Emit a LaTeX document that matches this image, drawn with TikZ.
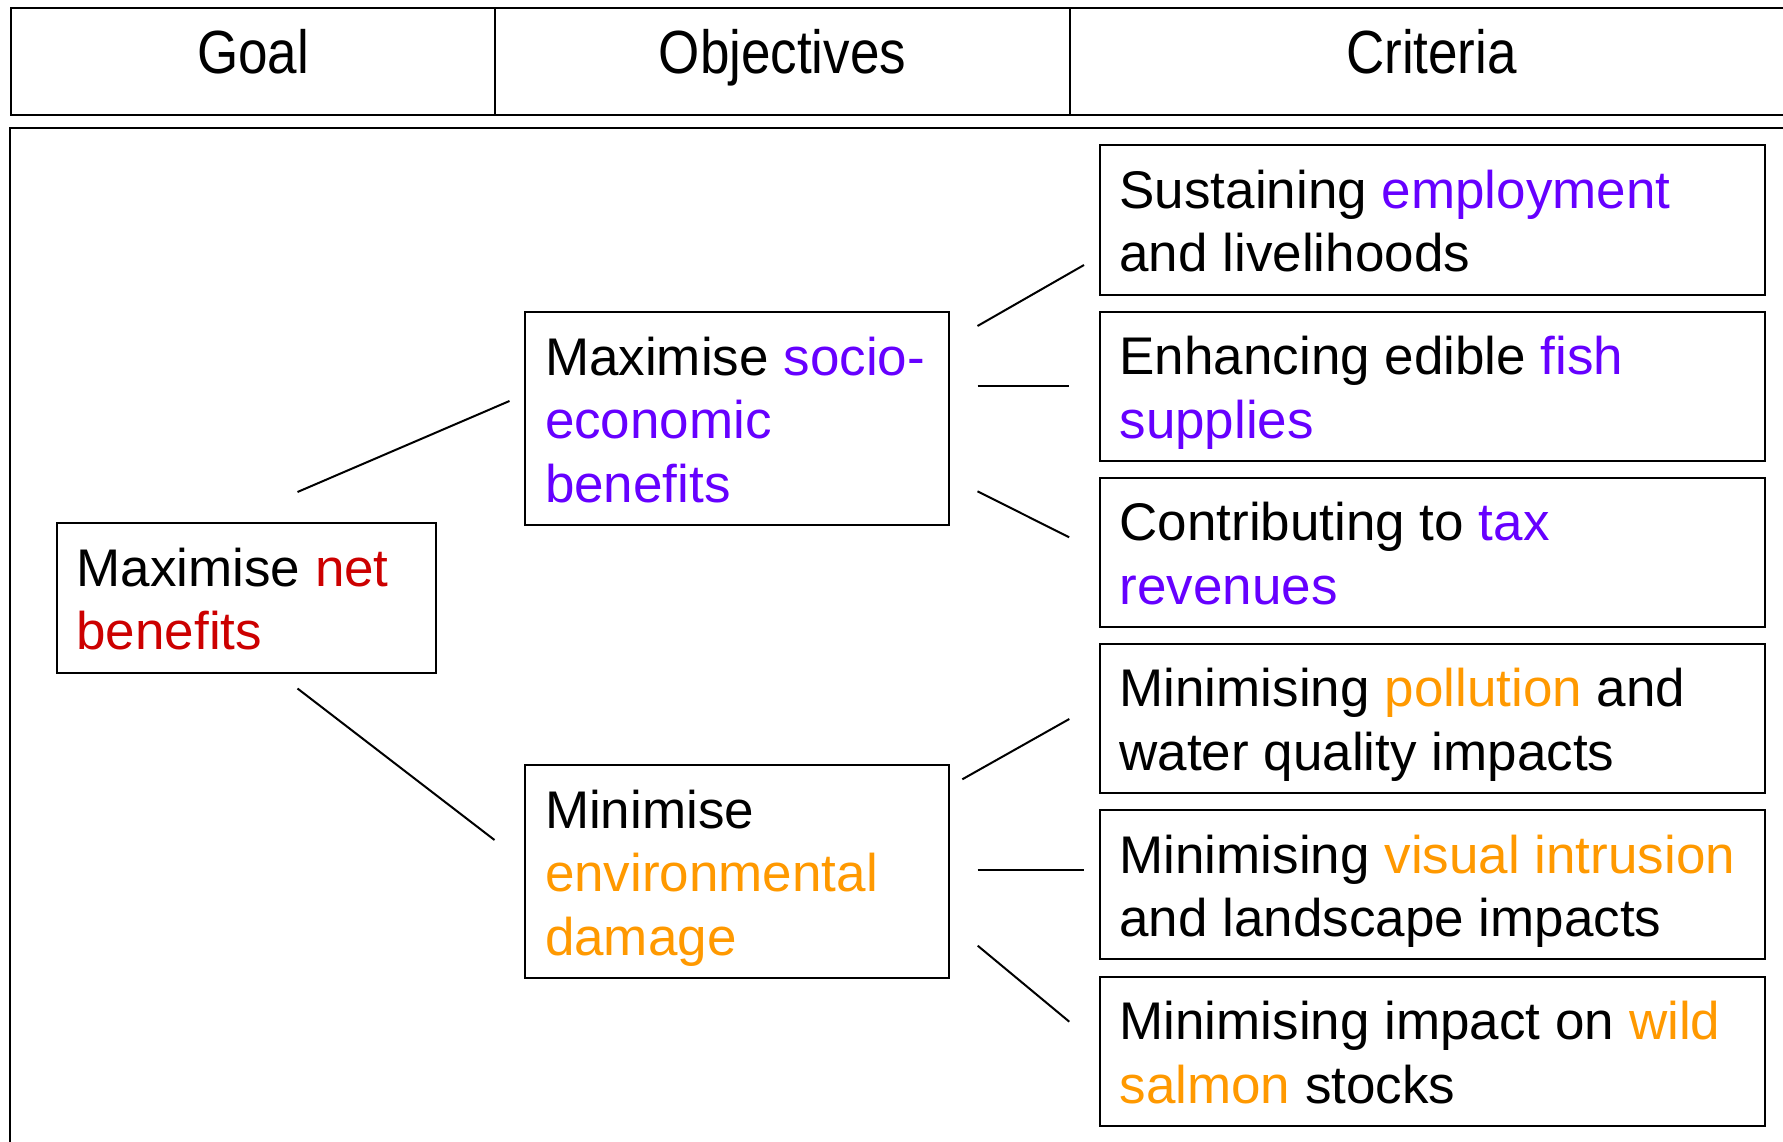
\documentclass[tikz,border=0pt]{standalone}
\usepackage{fontspec}
\setmainfont{Liberation Sans}
\usepackage{graphicx}

\definecolor{netred}{RGB}{204,0,0}
\definecolor{socio}{RGB}{102,0,255}
\definecolor{env}{RGB}{255,153,0}

% box body: fixed-size, top-aligned paragraph with a strut fixing the first baseline
\newcommand{\cellbody}[3]{\parbox[t][#2][t]{#1}{\raggedright\rule{0pt}{63pt}#3}}

\tikzset{
  bigfont/.style={font=\fontsize{53}{63.5}\selectfont},
  textbox/.style={draw=black, line width=2pt, inner xsep=20pt, inner ysep=0pt,
                  anchor=north west, bigfont},
  headcell/.style={draw=black, line width=2pt, inner sep=0pt, anchor=north west,
                   minimum height=106.5pt, text height=65.3pt, text depth=41.2pt, bigfont},
  link/.style={line width=2pt, line cap=butt}
}

\begin{document}
\begin{tikzpicture}[x=1pt, y=-1pt]
  \useasboundingbox (0,0) rectangle (1783,1142);
  \clip (0,0) rectangle (1783,1142);
  \fill[white] (0,0) rectangle (1783,1142);

  % column headings
  \node[headcell, minimum width=484pt] (hgoal) at (10,7.5) {\scalebox{1}[1.15]{Goal}};
  \node[headcell, minimum width=575pt] (hobj) at (494,7.5) {\scalebox{1}[1.15]{Objectives}};
  \node[headcell, minimum width=723pt] (hcrit) at (1069,7.5) {\scalebox{1}[1.15]{Criteria}};

  % frame around the hierarchy
  \draw[line width=2pt] (1800,128) -- (10,128) -- (10,1160);

  % goal
  \node[textbox] (goal) at (55.5,522) {\cellbody{339pt}{150pt}{%
    Maximise \textcolor{netred}{net}\\ \textcolor{netred}{benefits}}};

  % objectives
  \node[textbox] (obj1) at (524,311) {\cellbody{384pt}{213pt}{%
    \mbox{Maximise \textcolor{socio}{socio-}}\\ \textcolor{socio}{economic}\\ \textcolor{socio}{benefits}}};
  \node[textbox] (obj2) at (524,764) {\cellbody{384pt}{213pt}{%
    Minimise\\ \textcolor{env}{environmental}\\ \textcolor{env}{damage}}};

  % criteria
  \node[textbox] (c1) at (1098.5,144.5) {\cellbody{625.5pt}{149pt}{%
    Sustaining \textcolor{socio}{employment}\\ and livelihoods}};
  \node[textbox] (c2) at (1098.5,310.5) {\cellbody{625.5pt}{149pt}{%
    Enhancing edible \textcolor{socio}{fish}\\ \textcolor{socio}{supplies}}};
  \node[textbox] (c3) at (1098.5,476.5) {\cellbody{625.5pt}{149pt}{%
    Contributing to \textcolor{socio}{tax}\\ \textcolor{socio}{revenues}}};
  \node[textbox] (c4) at (1098.5,642.5) {\cellbody{625.5pt}{149pt}{%
    Minimising \textcolor{env}{pollution} and\\ water quality impacts}};
  \node[textbox] (c5) at (1098.5,809) {\cellbody{625.5pt}{149pt}{%
    \mbox{Minimising \textcolor{env}{visual intrusion}}\\ and landscape impacts}};
  \node[textbox] (c6) at (1098.5,975.5) {\cellbody{625.5pt}{149pt}{%
    Minimising impact on \textcolor{env}{wild}\\ \textcolor{env}{salmon} stocks}};

  % free-standing connector ends
  \coordinate (g1a) at (297.5,492);   \coordinate (g1b) at (509.5,401);
  \coordinate (g2a) at (297.5,688.5); \coordinate (g2b) at (494.5,840);
  \coordinate (o1a) at (977.5,326);   \coordinate (o1b) at (1084,265);
  \coordinate (o2a) at (977.5,386.3); \coordinate (o2b) at (1069.3,386.3);
  \coordinate (o3a) at (977.5,491.3); \coordinate (o3b) at (1069.2,537.3);
  \coordinate (o4a) at (962.3,779.3); \coordinate (o4b) at (1069.3,719);
  \coordinate (o5a) at (977.7,870.3); \coordinate (o5b) at (1084.3,870.3);
  \coordinate (o6a) at (977.7,945.7); \coordinate (o6b) at (1069.3,1021.7);

  % connectors
  \draw[link] (g1a) -- (g1b);
  \draw[link] (g2a) -- (g2b);
  \draw[link] (o1a) -- (o1b);
  \draw[link] (o2a) -- (o2b);
  \draw[link] (o3a) -- (o3b);
  \draw[link] (o4a) -- (o4b);
  \draw[link] (o5a) -- (o5b);
  \draw[link] (o6a) -- (o6b);
\end{tikzpicture}
\end{document}
